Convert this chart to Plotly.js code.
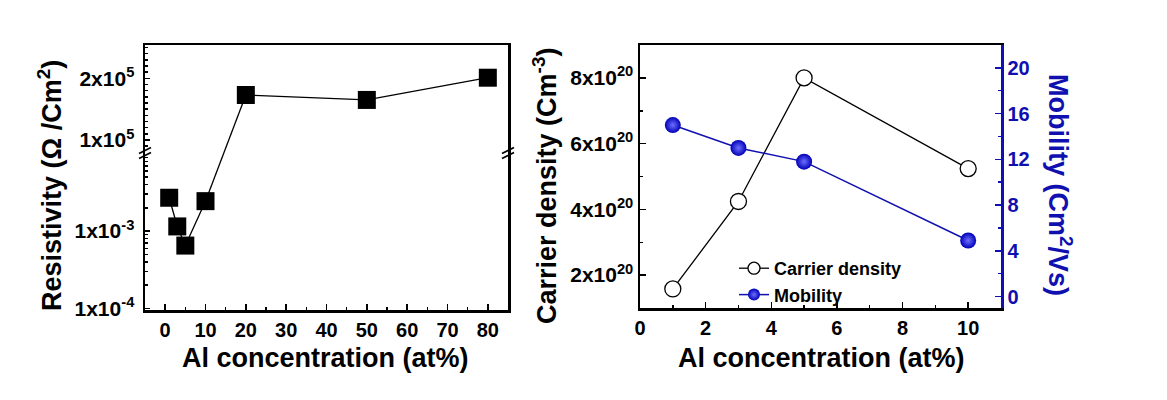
<!DOCTYPE html>
<html>
<head>
<meta charset="utf-8">
<script src="https://cdn.plot.ly/plotly-3.0.1.min.js"></script>
<style>
  html, body { margin: 0; padding: 0; background: #fff; }
  #chart { width: 1167px; height: 400px; }
</style>
</head>
<body>
<div id="chart"></div>
<script>
// Left panel: resistivity vs Al concentration (broken y axis)
const alLow = [1, 3, 5, 10];
const resLow = [2.7e-3, 1.15e-3, 6.5e-4, 2.44e-3];
const alHigh = [20, 50, 80];
const resHigh = [1.73e5, 1.65e5, 2.01e5];

const resLowTicks = [1e-4, 1e-3];
const resLowLabels = ['1x10<sup>-4</sup>', '1x10<sup>-3</sup>'];
const resHighTicks = [1e5, 2e5];
const resHighLabels = ['1x10<sup>5</sup>', '2x10<sup>5</sup>'];

// Right panel: carrier density and mobility
const alConc = [1, 3, 5, 10];
const carrierDensity = [1.58e20, 4.24e20, 8.0e20, 5.24e20];
const mobility = [15.0, 13.0, 11.8, 4.9];

const densTicks = [2e20, 4e20, 6e20, 8e20];
const densLabels = ['2x10<sup>20</sup>', '4x10<sup>20</sup>', '6x10<sup>20</sup>', '8x10<sup>20</sup>'];

const W = 1167, H = 400;
const blue = '#1010b0';
const FAMILY = 'Liberation Sans, Arial, sans-serif';
const font = { family: FAMILY, weight: 'bold', color: '#000' };

function tickFont(size, color) {
    return { family: FAMILY, weight: 'bold', size: size, color: color || '#000' };
}

// Domains (paper fractions)
const leftX = [145 / W, 508 / W];
const lowDom = [1 - 310 / H, 1 - 153 / H];
const highDom = [1 - 153 / H, 1 - 45 / H];
const rightX = [640 / W, 1001 / W];
const rightY = [1 - 308 / H, 1 - 45 / H];

const lowRange = [-4.02, -1.99];   // log10
const highRange = [0.79e5, 2.54e5];

// map a resistivity value to paper y, so the line can cross the axis break
function lowToPaper(v) {
    return lowDom[0] + (Math.log10(v) - lowRange[0]) / (lowRange[1] - lowRange[0]) * (lowDom[1] - lowDom[0]);
}
function highToPaper(v) {
    return highDom[0] + (v - highRange[0]) / (highRange[1] - highRange[0]) * (highDom[1] - highDom[0]);
}

const logMinor = [];
for (let e = -4; e <= -2; e++) {
    for (let m = 2; m <= 9; m++) logMinor.push(m * Math.pow(10, e));
}

const squareMarker = { symbol: 'square', size: 18, color: '#000' };

function densMarker(size) {
    return { symbol: 'circle', size: size, color: '#fff', line: { color: '#000', width: 1.3 } };
}
function mobMarker(size) {
    return {
        symbol: 'circle', size: size, color: '#0000b8',
        gradient: { type: 'radial', color: '#6f6fff' },
        line: { width: 0 }
    };
}

const traces = [
    {
        x: alLow, y: resLow, xaxis: 'x', yaxis: 'y',
        mode: 'lines+markers', line: { color: '#000', width: 1.3 },
        marker: squareMarker, showlegend: false
    },
    {
        x: [alLow[alLow.length - 1], alHigh[0]],
        y: [lowToPaper(resLow[resLow.length - 1]), highToPaper(resHigh[0])],
        xaxis: 'x', yaxis: 'y5',
        mode: 'lines', line: { color: '#000', width: 1.3 }, showlegend: false
    },
    {
        x: alHigh, y: resHigh, xaxis: 'x3', yaxis: 'y3',
        mode: 'lines+markers', line: { color: '#000', width: 1.3 },
        marker: squareMarker, showlegend: false
    },
    {
        x: alConc, y: carrierDensity, xaxis: 'x2', yaxis: 'y2',
        mode: 'lines+markers', line: { color: '#000', width: 1.3 },
        marker: densMarker(16), showlegend: false
    },
    {
        x: alConc, y: mobility, xaxis: 'x2', yaxis: 'y4',
        mode: 'lines+markers', line: { color: blue, width: 1.5 },
        marker: mobMarker(16), showlegend: false
    },
    // legend entries with the smaller symbols of the original key
    {
        x: [null], y: [null], xaxis: 'x2', yaxis: 'y2', name: 'Carrier density',
        mode: 'lines+markers', line: { color: '#000', width: 1.3 }, marker: densMarker(12)
    },
    {
        x: [null], y: [null], xaxis: 'x2', yaxis: 'y4', name: 'Mobility',
        mode: 'lines+markers', line: { color: blue, width: 1.5 }, marker: mobMarker(12)
    }
];

const axisBase = {
    showline: true, linewidth: 2.5, linecolor: '#000',
    ticks: 'inside', ticklen: 6, tickwidth: 1.5, tickcolor: '#000',
    showgrid: false, zeroline: false,
    tickfont: tickFont(20)
};

const layout = {
    width: W, height: H,
    margin: { l: 0, r: 0, t: 0, b: 0 },
    paper_bgcolor: '#fff', plot_bgcolor: 'rgba(0,0,0,0)',
    font: font,
    showlegend: true,
    legend: {
        x: 734 / W, y: 1 - 250 / H, xanchor: 'left', yanchor: 'top',
        bgcolor: 'rgba(0,0,0,0)',
        font: { family: FAMILY, weight: 'bold', size: 18, color: '#000' },
        tracegroupgap: 0
    },
    xaxis: Object.assign({}, axisBase, {
        domain: leftX, anchor: 'y', range: [-5, 85],
        dtick: 10, tick0: 0,
        minor: { dtick: 5, ticks: 'inside', ticklen: 3, tickcolor: '#000' }
    }),
    xaxis3: {
        domain: leftX, anchor: 'y3', matches: 'x', side: 'top',
        showline: true, linewidth: 2.5, linecolor: '#000',
        ticks: '', showticklabels: false, showgrid: false, zeroline: false
    },
    yaxis: Object.assign({}, axisBase, {
        domain: lowDom, anchor: 'x', type: 'log', range: lowRange,
        mirror: true, tickmode: 'array', tickvals: resLowTicks, ticktext: resLowLabels,
        ticklen: 5, tickfont: tickFont(21), ticklabelstandoff: 4,
        minor: { tickmode: 'array', tickvals: logMinor, ticks: 'inside', ticklen: 3, tickcolor: '#000' }
    }),
    yaxis3: Object.assign({}, axisBase, {
        domain: highDom, anchor: 'x3', range: highRange,
        mirror: true, tickmode: 'array', tickvals: resHighTicks, ticktext: resHighLabels,
        ticklen: 5, tickfont: tickFont(21), ticklabelstandoff: 4,
        minor: { dtick: 1e4, tick0: 0, ticks: 'inside', ticklen: 3, tickcolor: '#000' }
    }),
    yaxis5: {
        domain: [0, 1], range: [0, 1], anchor: 'x', visible: false, fixedrange: true
    },
    xaxis2: Object.assign({}, axisBase, {
        domain: rightX, anchor: 'y2', range: [0, 11],
        dtick: 2, tick0: 0, mirror: true,
        minor: { dtick: 1, ticks: 'inside', ticklen: 3, tickcolor: '#000' }
    }),
    yaxis2: Object.assign({}, axisBase, {
        domain: rightY, anchor: 'x2', range: [1e20, 9e20],
        tickmode: 'array', tickvals: densTicks, ticktext: densLabels,
        tickfont: tickFont(21),
        minor: { dtick: 1e20, tick0: 0, ticks: 'inside', ticklen: 3, tickcolor: '#000' }
    }),
    yaxis4: Object.assign({}, axisBase, {
        overlaying: 'y2', anchor: 'x2', side: 'right', range: [-1, 22],
        linecolor: blue, tickcolor: blue, dtick: 4, tick0: 0,
        tickfont: tickFont(20, blue),
        minor: { dtick: 2, ticks: 'inside', ticklen: 3, tickcolor: blue }
    }),
    annotations: [
        { text: 'Al concentration (at%)', x: 325 / W, y: 1 - 358 / H },
        { text: 'Al concentration (at%)', x: 821 / W, y: 1 - 358 / H },
        { text: 'Resistivity (\u03A9 /Cm<sup>2</sup>)', x: 50 / W, y: 1 - 186 / H, textangle: -90 },
        { text: 'Carrier density (Cm<sup>-3</sup>)', x: 545 / W, y: 1 - 186 / H, textangle: -90 },
        { text: 'Mobility (Cm<sup>2</sup>/Vs)', x: 1060 / W, y: 1 - 185 / H, textangle: 90,
          font: { family: FAMILY, weight: 'bold', size: 27, color: blue } }
    ].map(a => Object.assign({
        xref: 'paper', yref: 'paper', xanchor: 'center', yanchor: 'middle',
        showarrow: false, font: { family: FAMILY, weight: 'bold', size: 27, color: '#000' }
    }, a)),
    shapes: []
};

// axis break marks ("//") on both sides of the left panel
[leftX[0], leftX[1]].forEach(xb => {
    [-2.5, 2.5].forEach(off => {
        layout.shapes.push({
            type: 'line', xref: 'paper', yref: 'paper',
            x0: xb - 6 / W, x1: xb + 6 / W,
            y0: lowDom[1] - (3 + off) / H, y1: lowDom[1] + (3 - off) / H,
            line: { color: '#000', width: 1.8 }
        });
    });
});

Plotly.newPlot('chart', traces, layout, { displayModeBar: false, staticPlot: true });
</script>
</body>
</html>
